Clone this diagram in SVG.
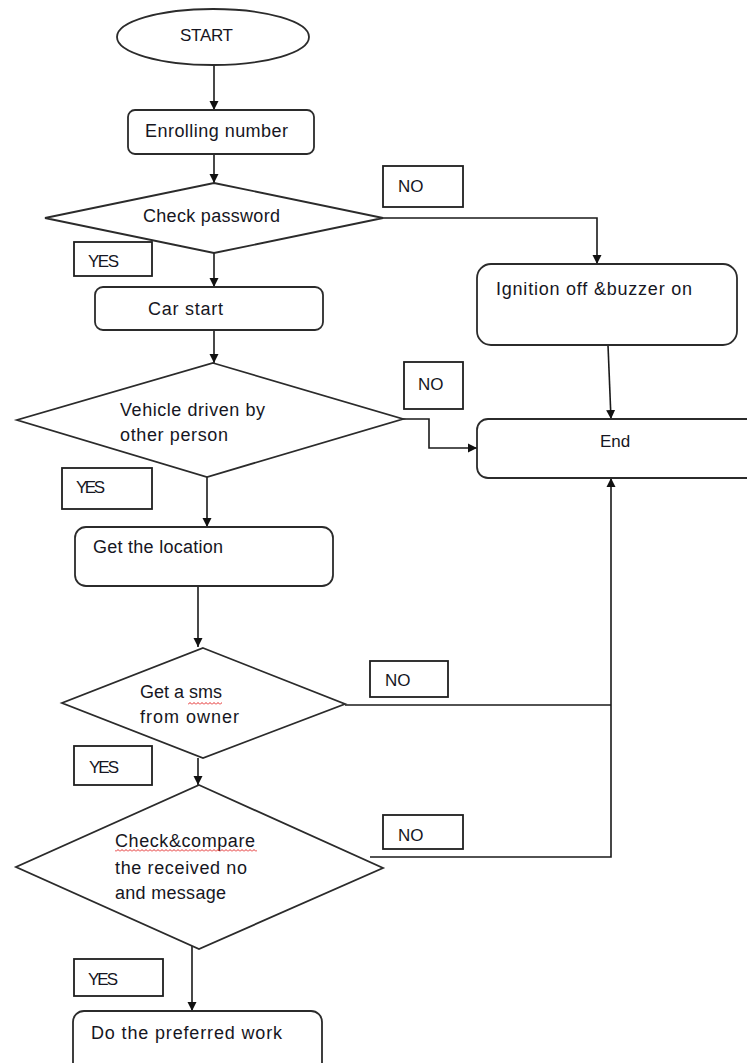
<svg xmlns="http://www.w3.org/2000/svg" width="747" height="1063" viewBox="0 0 747 1063">
<defs>
<style>
.shape{fill:#fff;stroke:#2b2b2b;stroke-width:1.8}
.lbl{fill:#fff;stroke:#1e1e1e;stroke-width:1.8}
.conn{fill:none;stroke:#1a1a1a;stroke-width:1.6}
text{font-family:"Liberation Sans",Arial,sans-serif;font-size:18px;fill:#161622}
.sm{font-size:17px}
</style>
<marker id="arr" markerUnits="userSpaceOnUse" markerWidth="10" markerHeight="10" refX="9" refY="5" orient="auto">
<path d="M0,0.5 L9,5 L0,9.5 z" fill="#111"/>
</marker>
<pattern id="squig" width="4" height="3" patternUnits="userSpaceOnUse">
<path d="M0,2.5 L2,0.5 L4,2.5" fill="none" stroke="#e01010" stroke-width="0.9"/>
</pattern>
</defs>
<rect width="747" height="1063" fill="#fff"/>

<g id="connectors">
<path class="conn" d="M214,65 V110" marker-end="url(#arr)"/>
<path class="conn" d="M214,154 V183" marker-end="url(#arr)"/>
<path class="conn" d="M383,218 H597 V264" marker-end="url(#arr)"/>
<path class="conn" d="M214,253 V287" marker-end="url(#arr)"/>
<path class="conn" d="M214,330 V363" marker-end="url(#arr)"/>
<path class="conn" d="M608,345 L611,419" marker-end="url(#arr)"/>
<path class="conn" d="M403,419 H429 V448 H477" marker-end="url(#arr)"/>
<path class="conn" d="M207,477 V527" marker-end="url(#arr)"/>
<path class="conn" d="M198,586 V647" marker-end="url(#arr)"/>
<path class="conn" d="M345,705 H611"/>
<path class="conn" d="M370,857 H611 V478" marker-end="url(#arr)"/>
<path class="conn" d="M198,758 V785" marker-end="url(#arr)"/>
<path class="conn" d="M192,940 V1011" marker-end="url(#arr)"/>
</g>

<g id="start">
<ellipse class="shape" cx="213" cy="37" rx="96" ry="28"/>
<text x="180" y="41" class="sm" textLength="53">START</text>
</g>
<g id="enroll">
<rect class="shape" x="128" y="110" width="186" height="44" rx="7"/>
<text x="145" y="137" textLength="143">Enrolling number</text>
</g>
<g id="check_password">
<polygon class="shape" points="214,183 383,218 214,253 45,218"/>
<text x="143" y="222" textLength="137">Check password</text>
</g>
<g id="no1">
<rect class="lbl" x="383" y="166" width="80" height="41"/>
<text x="398" y="192" class="sm">NO</text>
</g>
<g id="yes1">
<rect class="lbl" x="74" y="242" width="78" height="34"/>
<text x="88" y="267" class="sm" textLength="31">YES</text>
</g>
<g id="car_start">
<rect class="shape" x="95" y="287" width="228" height="43" rx="8"/>
<text x="148" y="315" textLength="75">Car start</text>
</g>
<g id="ignition">
<rect class="shape" x="477" y="264" width="260" height="81" rx="14"/>
<text x="496" y="295" textLength="196">Ignition off &amp;buzzer on</text>
</g>
<g id="vehicle">
<polygon class="shape" points="213,363 403,419 207,477 17,420"/>
<text x="120" y="416" textLength="145">Vehicle driven by</text>
<text x="120" y="441" textLength="108">other person</text>
</g>
<g id="no2">
<rect class="lbl" x="404" y="362" width="59" height="47"/>
<text x="418" y="390" class="sm">NO</text>
</g>
<g id="end">
<rect class="shape" x="477" y="419" width="290" height="59" rx="11"/>
<text x="600" y="447" class="sm">End</text>
</g>
<g id="yes2">
<rect class="lbl" x="62" y="468" width="90" height="41"/>
<text x="76" y="493" class="sm" textLength="29">YES</text>
</g>
<g id="location">
<rect class="shape" x="75" y="527" width="258" height="59" rx="11"/>
<text x="93" y="553" textLength="130">Get the location</text>
</g>
<g id="sms">
<polygon class="shape" points="203,648 345,704 203,758 62,703"/>
<text x="140" y="698" textLength="82">Get a sms</text>
<rect x="188" y="702" width="34" height="3" fill="url(#squig)"/>
<text x="140" y="723" textLength="99">from owner</text>
</g>
<g id="no3">
<rect class="lbl" x="370" y="661" width="78" height="36"/>
<text x="385" y="686" class="sm">NO</text>
</g>
<g id="yes3">
<rect class="lbl" x="74" y="746" width="78" height="39"/>
<text x="89" y="773" class="sm" textLength="30">YES</text>
</g>
<g id="compare">
<polygon class="shape" points="199,785 383,868 199,949 16,867"/>
<text x="115" y="847" textLength="140">Check&amp;compare</text>
<rect x="115" y="849" width="142" height="3" fill="url(#squig)"/>
<text x="115" y="874" textLength="132">the received no</text>
<text x="115" y="899" textLength="111">and message</text>
</g>
<g id="no4">
<rect class="lbl" x="383" y="815" width="80" height="34"/>
<text x="398" y="841" class="sm">NO</text>
</g>
<g id="yes4">
<rect class="lbl" x="74" y="959" width="89" height="37"/>
<text x="88" y="985" class="sm" textLength="30">YES</text>
</g>
<g id="preferred">
<rect class="shape" x="73" y="1011" width="249" height="70" rx="11"/>
<text x="91" y="1039" textLength="191">Do the preferred work</text>
</g>
</svg>
